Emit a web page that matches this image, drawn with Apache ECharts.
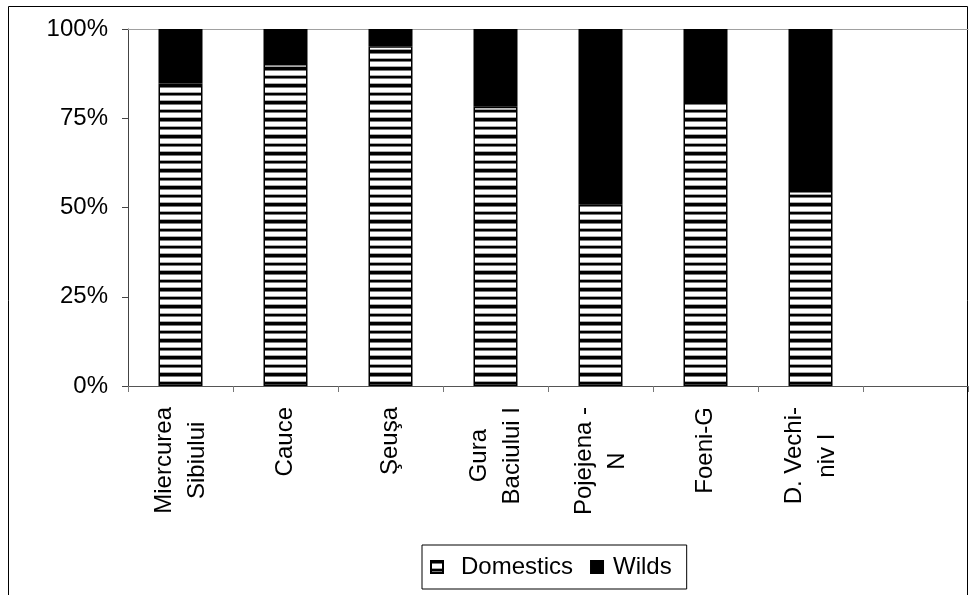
<!DOCTYPE html>
<html>
<head>
<meta charset="utf-8">
<script src="https://cdn.jsdelivr.net/npm/echarts@6/dist/echarts.min.js"></script>
<style>
  html, body { margin: 0; padding: 0; background: #fff; }
  #chart { width: 971px; height: 595px; }
</style>
</head>
<body>
<div id="chart"></div>
<script>
// Sites (the last slot is left empty on purpose)
const categories = ['Miercurea\nSibiului', 'Cauce', 'Şeuşa', 'Gura\nBaciului I', 'Pojejena -\nN', 'Foeni-G', 'D. Vechi-\nniv I', ''];
// Share of domestic and wild animals, percent
const domestics = [84.7, 90.2, 95.2, 78.2, 50.9, 80.1, 54.6, null];
const wilds = [15.3, 9.8, 4.8, 21.8, 49.1, 19.9, 45.4, null];
const yTicks = [0, 25, 50, 75, 100];

const FONT = "'Liberation Sans', Arial, sans-serif";

// Horizontal stripe fill for the domestic segment
function stripePattern() {
  const rows = ['#000', '#000', '#7a7a7a', '#fff', '#fff', '#fff', '#fff', '#a8a8a8', '#000',
                '#000', '#7a7a7a', '#fff', '#fff', '#fff', '#fff', '#a8a8a8', '#000'];
  const c = document.createElement('canvas');
  c.width = 4; c.height = rows.length;
  const ctx = c.getContext('2d');
  rows.forEach((col, i) => { ctx.fillStyle = col; ctx.fillRect(0, i, 4, 1); });
  return c;
}

const chart = echarts.init(document.getElementById('chart'), null, { renderer: 'canvas' });

chart.setOption({
  animation: false,
  backgroundColor: '#fff',
  grid: { left: 128, right: 3, top: 29, bottom: 209, containLabel: false },
  legend: {
    left: 422, top: 545,
    orient: 'horizontal',
    data: [
      { name: 'Domestics', textStyle: { padding: [0, 0, 0, 13] } },
      { name: 'Wilds', textStyle: { padding: [0, 0, 0, 5] } }
    ],
    itemWidth: 12, itemHeight: 12, itemGap: 17,
    padding: [10, 15, 10, 8],
    borderColor: '#000', borderWidth: 1,
    icon: 'rect',
    textStyle: { fontFamily: FONT, fontSize: 24, color: '#000', lineHeight: 24 }
  },
  xAxis: [{
    type: 'category',
    data: categories,
    position: 'bottom',
    boundaryGap: true,
    axisLine: { lineStyle: { color: '#555', width: 1 } },
    axisTick: { show: true, length: 6, lineStyle: { color: '#777' }, alignWithLabel: false },
    axisLabel: {
      rotate: 90, margin: 21, interval: 0, color: '#000',
      formatter: v => v.split('\n').map(s => '{c|' + s + '}').join('\n'),
      rich: { c: { align: 'center', fontFamily: FONT, fontSize: 24, lineHeight: 33, color: '#000' } }
    },
    splitLine: { show: false }
  }, {
    type: 'category',
    data: categories,
    position: 'top',
    axisLine: { show: true, lineStyle: { color: '#a0a0a0', width: 1 } },
    axisTick: { show: false },
    axisLabel: { show: false },
    splitLine: { show: false }
  }],
  yAxis: {
    type: 'value',
    min: yTicks[0], max: yTicks[yTicks.length - 1], interval: 25,
    axisLine: { show: true, lineStyle: { color: '#444', width: 1 } },
    axisTick: { show: true, inside: false, length: 6, lineStyle: { color: '#444' } },
    axisLabel: { formatter: '{value}%', margin: 20, fontFamily: FONT, fontSize: 24, color: '#000' },
    splitLine: { show: false }
  },
  series: [{
    name: 'Domestics',
    type: 'bar',
    stack: 'total',
    barWidth: 44,
    data: domestics,
    itemStyle: { color: { image: stripePattern(), repeat: 'repeat' }, borderColor: '#000', borderWidth: 1.5 }
  }, {
    name: 'Wilds',
    type: 'bar',
    stack: 'total',
    barWidth: 44,
    data: wilds,
    itemStyle: { color: '#000', borderColor: '#000', borderWidth: 1.5 }
  }],
  graphic: [{
    type: 'polyline',
    silent: true,
    shape: { points: [[8.5, 595], [8.5, 6.5], [967.5, 6.5], [967.5, 595]] },
    style: { stroke: '#000', lineWidth: 1, fill: null }
  }]
});
</script>
</body>
</html>
